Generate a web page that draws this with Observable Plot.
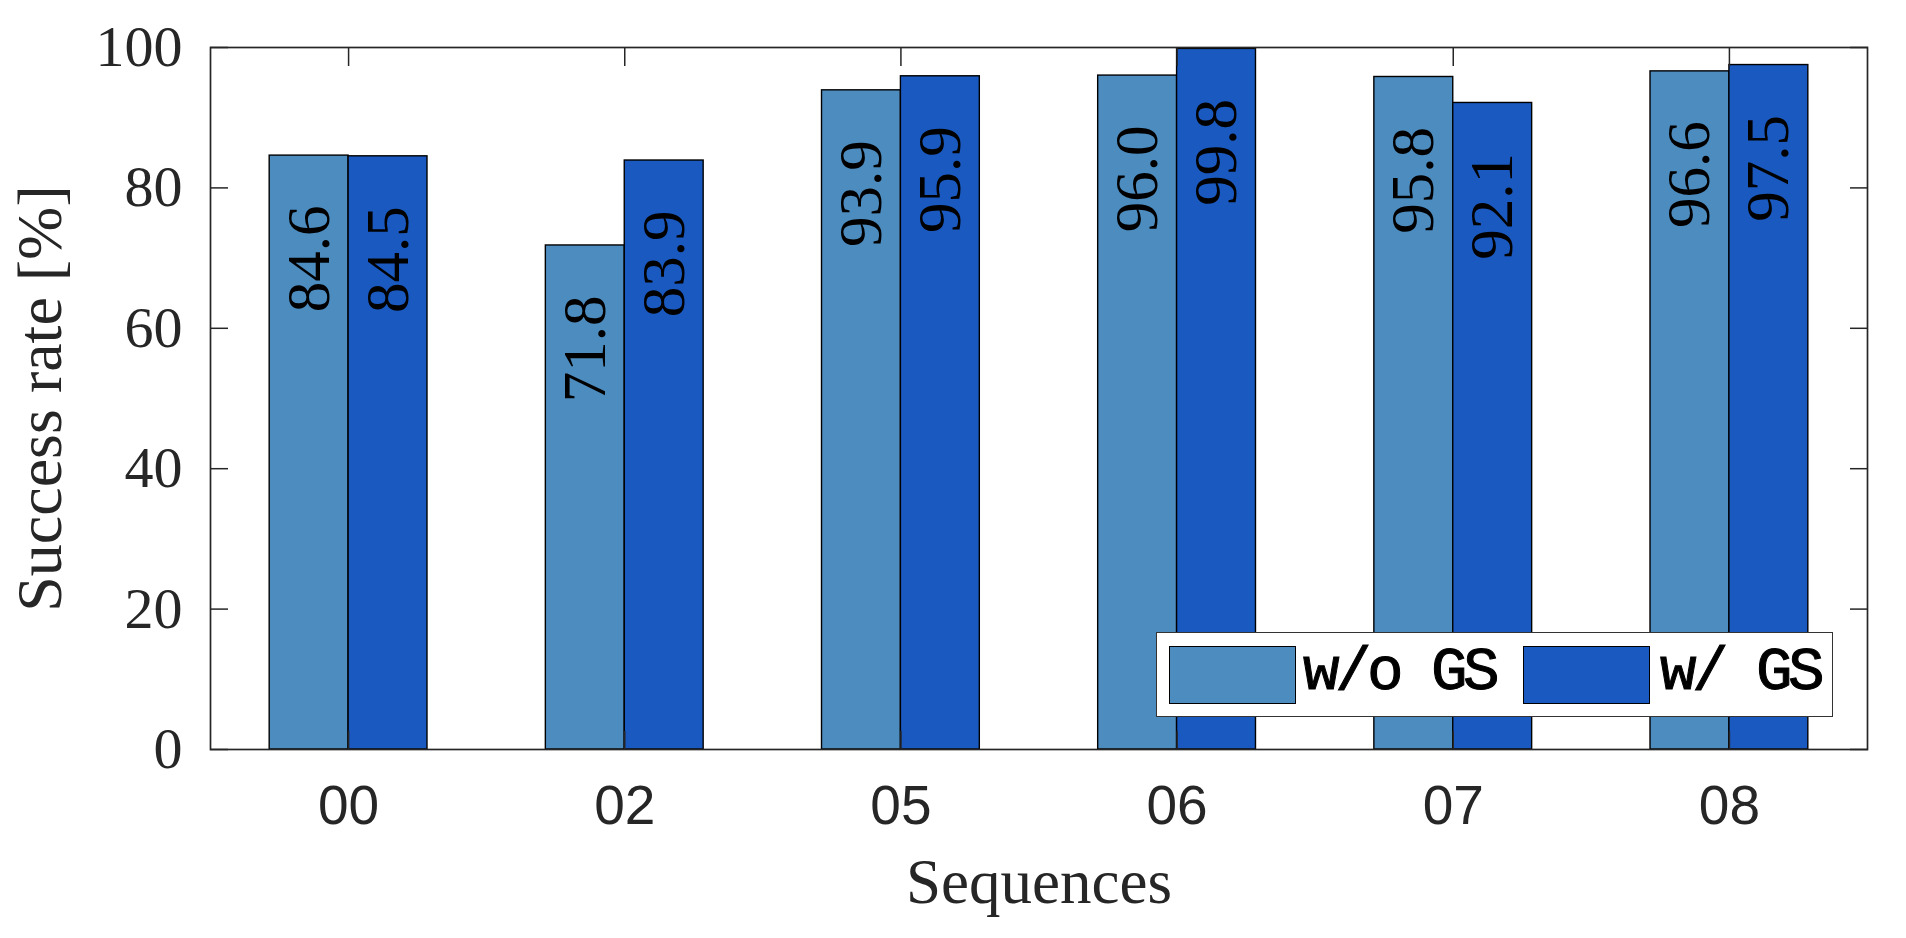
<!DOCTYPE html>
<html><head><meta charset="utf-8">
<script src="https://cdn.jsdelivr.net/npm/d3@7"></script>
<script src="https://cdn.jsdelivr.net/npm/@observablehq/plot@0.6"></script>
<style>
html,body{margin:0;padding:0;background:#fff;overflow:hidden;}
#wrap{position:relative;width:1906px;height:938px;}
#legend{position:absolute;left:1156px;top:632px;width:677px;height:85px;box-sizing:border-box;border:1.7px solid #333;background:#fff;}
.sw{position:absolute;top:13px;width:127px;height:58px;box-sizing:border-box;border:1.6px solid #000;}
.lt{position:absolute;top:-3px;height:85px;line-height:85px;font-family:"Liberation Mono",monospace;font-size:61px;letter-spacing:-4.6px;color:#000;white-space:pre;-webkit-text-stroke:1px #000;}
</style></head><body><div id="wrap"></div>
<script>
const sequences = ["00", "02", "05", "06", "07", "08"];
const seriesNames = ["w/o GS", "w/ GS"];
const withoutGS = [84.6, 71.8, 93.9, 96.0, 95.8, 96.6];
const withGS = [84.5, 83.9, 95.9, 99.8, 92.1, 97.5];
const colors = ["#4d8cbf", "#1a59bf"];
const yTicks = [0, 20, 40, 60, 80, 100];
const xTicks = sequences.map((s, i) => i + 1);

const W = 1 / 3.5; // bar width in category units (grouped bars touching)
const rows = sequences.flatMap((s, i) => [
  {seq: s, idx: i + 1, series: 0, value: withoutGS[i]},
  {seq: s, idx: i + 1, series: 1, value: withGS[i]}
]);

const axisColor = "#262626";
const serif = "Liberation Serif";
const sans = "Liberation Sans";

const chart = Plot.plot({
  width: 1906,
  height: 938,
  marginLeft: 210,
  marginRight: 39,
  marginTop: 47,
  marginBottom: 189,
  style: {background: "#fff", overflow: "visible"},
  x: {domain: [0.5, 6.5]},
  y: {domain: [0, 100]},
  color: {domain: seriesNames, range: colors},
  marks: [
    Plot.rectY(rows, {
      x1: d => d.idx - W + d.series * W,
      x2: d => d.idx + d.series * W,
      y1: 0,
      y2: "value",
      fill: d => seriesNames[d.series],
      stroke: "#000",
      strokeWidth: 1.4
    }),
    Plot.text(rows, {
      x: d => d.idx + (d.series - 0.5) * W,
      y: "value",
      text: d => d.value.toFixed(1),
      rotate: -90,
      textAnchor: "end",
      lineAnchor: "middle",
      dy: 50,
      fontSize: 61,
      fontFamily: serif,
      fill: "#000"
    }),
    Plot.frame({stroke: axisColor, strokeWidth: 1.7}),
    // inward tick marks on all four sides
    Plot.axisY({anchor: "left", ticks: yTicks, tickSize: -18, tickFormat: () => "", label: null, stroke: axisColor, strokeWidth: 1.5}),
    Plot.axisY({anchor: "right", ticks: yTicks, tickSize: -18, tickFormat: () => "", label: null, stroke: axisColor, strokeWidth: 1.5}),
    Plot.axisX({anchor: "bottom", ticks: xTicks, tickSize: -18, tickFormat: () => "", label: null, stroke: axisColor, strokeWidth: 1.5}),
    Plot.axisX({anchor: "top", ticks: xTicks, tickSize: -18, tickFormat: () => "", label: null, stroke: axisColor, strokeWidth: 1.5}),
    // tick labels
    Plot.axisY({anchor: "left", ticks: yTicks, tickSize: 0, tickPadding: 28, label: null, fontSize: 58, fontFamily: serif, color: axisColor}),
    Plot.axisX({anchor: "bottom", ticks: xTicks, tickFormat: i => sequences[i - 1], tickSize: 0, tickPadding: 35, label: null, fontSize: 55, fontFamily: sans, color: axisColor}),
    // axis titles
    Plot.text(["Sequences"], {frameAnchor: "bottom", text: d => d, textAnchor: "middle", lineAnchor: "middle", dy: 133, fontSize: 63, fontFamily: serif, fill: axisColor}),
    Plot.text(["Success rate [%]"], {frameAnchor: "left", text: d => d, rotate: -90, textAnchor: "middle", lineAnchor: "middle", dx: -170, fontSize: 64, fontFamily: serif, fill: axisColor})
  ]
});

const wrap = document.getElementById("wrap");
wrap.appendChild(chart);

// legend overlay (inside the axes, lower right)
const legend = document.createElement("div");
legend.id = "legend";
const legendLayout = [{sw: 12, tx: 146}, {sw: 366, tx: 503}];
seriesNames.forEach((name, i) => {
  const sw = document.createElement("div");
  sw.className = "sw";
  sw.style.left = legendLayout[i].sw + "px";
  sw.style.background = colors[i];
  const t = document.createElement("div");
  t.className = "lt";
  t.style.left = legendLayout[i].tx + "px";
  t.textContent = name;
  legend.appendChild(sw);
  legend.appendChild(t);
});
wrap.appendChild(legend);
</script>
</body></html>
